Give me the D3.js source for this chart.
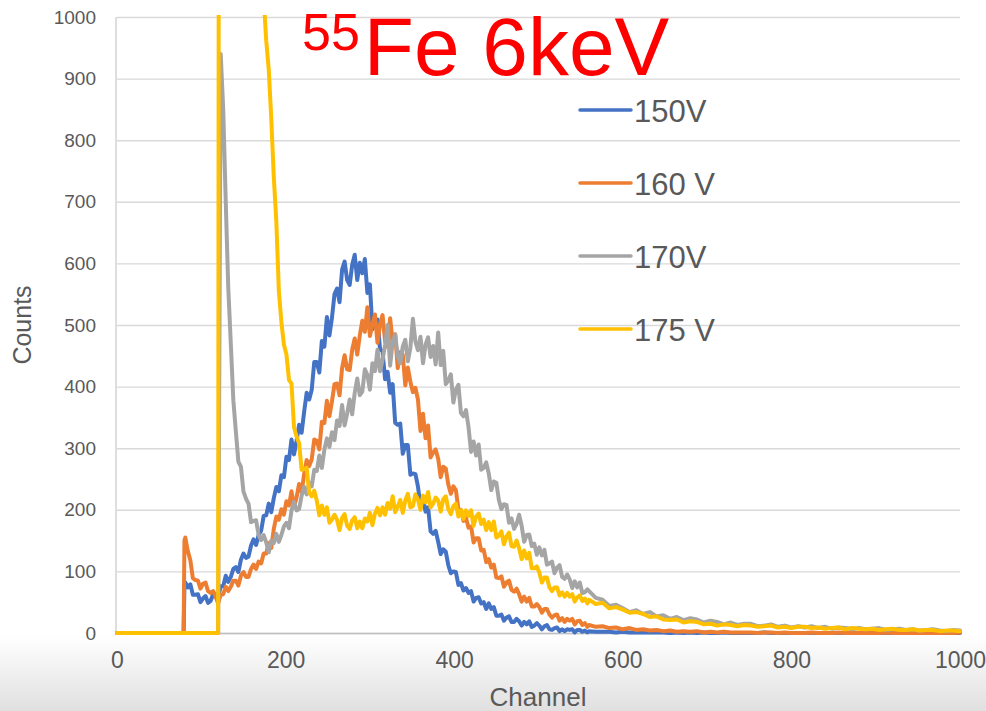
<!DOCTYPE html>
<html><head><meta charset="utf-8">
<script src="https://cdn.jsdelivr.net/npm/d3@7"></script>
<style>html,body{margin:0;padding:0;background:#fff;}svg{display:block;font-family:"Liberation Sans",Arial,sans-serif;}</style>
</head><body>
<svg id="chart" width="986" height="711"></svg>
<script>
// ---- data ----
const xTicks = [0, 200, 400, 600, 800, 1000];
const yTicks = [0, 100, 200, 300, 400, 500, 600, 700, 800, 900, 1000];
const seriesNames = ["150V", "160 V", "170V", "175 V"];
const seriesColors = ["#4472C4", "#ED7D31", "#A5A5A5", "#FFC000"];

// sampling grid: core channels 81,84,...,558 (rows of 10 = 30 channels); tail channels 560,568,...,1000 (rows of 8)
const coreStart = 81, coreStep = 3, tailStart = 560, tailStep = 8;

// leading points before the core grid, per series
const lead150 = [[0,0],[79,0],[80,75]];
const lead160 = [[0,0],[79,0],[80,150]];
const lead170 = [[0,0]];
const lead175 = [[0,0]];

const core150 = [
 82,74,79,62,62,63,50,56,60,49,
 52,63,63,59,76,76,93,83,91,104,
 107,99,119,129,122,124,142,152,143,159,
 166,190,191,210,196,219,237,230,256,253,
 286,281,314,290,312,338,325,359,390,379,
 395,440,440,423,474,465,513,483,512,550,
 559,537,590,603,573,565,598,614,573,601,
 584,607,552,566,493,509,509,461,457,412,
 424,390,404,341,338,340,291,305,305,257,
 259,258,238,206,220,197,204,165,161,166,
 148,128,136,132,110,97,100,99,78,81,
 69,73,65,68,51,57,58,48,50,39,
 48,39,42,28,28,30,20,25,27,18,
 18,23,19,12,18,14,19,10,12,16,
 12,6,11,13,6,5,8,9,3,6,
 3,6,5,6,1,5,5,2,4,1];
const tail150 = [
 3,2,2,2,1,2,1,1,
 1,1,1,1,0,1,0,1,
 0,1,0,0,1,0,0,0,
 0,0,1,0,0,0,0,0,
 0,0,0,0,0,0,0,0,
 0,0,0,0,0,0,0,0,
 0,0,0,0,0,0,0,0];

const core160 = [
 155,133,118,89,86,85,72,80,82,68,
 65,68,59,48,62,63,75,68,75,85,
 85,77,93,99,91,91,104,111,104,116,
 113,129,129,146,138,169,189,184,201,192,
 214,207,230,205,220,242,228,258,281,271,
 282,314,312,298,343,341,377,352,376,404,
 405,386,430,451,428,427,460,478,452,483,
 507,489,529,482,501,517,471,501,516,474,
 465,511,472,485,430,456,452,402,431,408,
 391,398,379,328,356,316,337,285,293,298,
 283,253,270,267,241,226,238,232,200,200,
 182,187,171,173,147,154,154,134,135,115,
 120,106,111,90,89,92,75,82,85,70,
 67,72,63,51,59,51,57,43,43,47,
 42,33,39,39,30,25,29,30,20,24,
 18,23,20,23,14,19,20,13,16,10];
const tail160 = [
 13,10,11,8,9,6,8,5,
 6,4,5,3,4,2,3,2,
 3,1,2,1,2,1,1,1,
 1,0,1,1,0,1,0,0,
 0,1,0,0,0,1,0,0,
 0,0,0,0,1,0,0,0,
 0,0,0,0,0,0,0,1];

const core170 = [
 0,0,0,0,0,0,0,0,0,0,
 0,0,0,0,940,850,700,560,470,378,
 327,278,270,230,218,210,180,182,183,159,
 151,159,147,131,150,146,161,148,159,173,
 179,170,199,213,199,201,223,237,225,244,
 238,265,263,288,268,298,316,302,326,313,
 345,336,370,337,356,379,355,390,413,386,
 392,428,419,395,438,425,460,425,443,468,
 500,434,473,484,449,438,465,476,441,463,
 510,473,459,481,438,468,480,448,466,436,
 488,435,458,404,410,420,374,395,403,357,
 352,362,334,294,311,288,306,265,268,277,
 259,232,246,244,216,201,209,208,179,186,
 169,177,192,174,148,159,160,141,145,127,
 139,126,135,111,113,116,97,106,110,91,
 88,95,87,73,84,74,82,65,66,71];
const tail170 = [
 68,57,54,44,46,40,34,37,
 31,34,27,29,23,26,21,24,
 22,17,20,18,14,17,13,15,
 15,11,12,14,10,12,9,11,
 9,11,8,10,7,9,8,6,
 8,6,7,8,5,6,7,5,
 6,4,5,6,4,3,5,4];

const core175 = [
 0,0,0,0,0,0,0,0,0,0,
 0,0,0,0,5000,4000,3400,2900,2500,2200,
 1950,1800,1650,1550,1450,1380,1300,1240,1180,1130,
 1080,1030,962,915,835,740,668,555,505,468,
 452,411,405,334,319,308,265,266,268,228,
 222,231,215,191,207,192,204,179,184,192,
 184,167,187,193,174,169,183,188,170,181,
 170,186,181,195,175,194,203,191,204,192,
 211,202,222,196,205,216,195,215,226,204,
 206,225,217,200,223,212,229,204,210,220,
 215,197,217,222,201,193,206,210,189,199,
 185,199,190,199,174,189,194,177,184,167,
 180,167,181,155,158,165,144,157,163,141,
 140,150,138,120,134,121,130,105,105,108,
 98,82,90,90,74,68,74,74,61,66,
 59,65,59,63,51,58,61,52,56,48];
const tail175 = [
 54,47,49,40,42,38,33,34,
 31,26,27,22,21,22,17,19,
 18,14,15,12,14,13,11,13,
 12,10,11,12,9,10,8,10,
 10,8,9,7,8,9,6,8,
 7,6,7,5,6,7,5,5,
 6,4,5,5,3,4,4,3];

const leads = [lead150, lead160, lead170, lead175];
const cores = [core150, core160, core170, core175];
const tails = [tail150, tail160, tail170, tail175];
const allSeries = cores.map((c, k) =>
  leads[k]
    .concat(c.map((v, i) => [coreStart + coreStep * i, v]))
    .concat(tails[k].map((v, j) => [tailStart + tailStep * j, v])));

// ---- layout ----
const svg = d3.select("#chart");
const mLeft = 117, mRight = 960, mTop = 17, mBottom = 633;
const x = d3.scaleLinear().domain([0, 1000]).range([mLeft, mRight]);
const y = d3.scaleLinear().domain([0, 1000]).range([mBottom, mTop]);

// background
const defs = svg.append("defs");
const grad = defs.append("linearGradient").attr("id","bg").attr("x1",0).attr("y1",0).attr("x2",0).attr("y2",1);
grad.append("stop").attr("offset","0%").attr("stop-color","#ffffff");
grad.append("stop").attr("offset","100%").attr("stop-color","#e0e0e0");
svg.append("rect").attr("x",0).attr("y",0).attr("width",986).attr("height",711).attr("fill","#fff");
svg.append("rect").attr("x",0).attr("y",636).attr("width",986).attr("height",75).attr("fill","url(#bg)");

defs.append("clipPath").attr("id","clip").append("rect")
  .attr("x", mLeft - 2).attr("y", mTop - 2).attr("width", mRight - mLeft + 4).attr("height", mBottom - mTop + 10);

// gridlines + y axis
const yAxis = d3.axisLeft(y).tickValues(yTicks).tickSize(-(mRight - mLeft)).tickPadding(21).tickFormat(d3.format("d"));
const gy = svg.append("g").attr("transform", `translate(${mLeft},0)`).call(yAxis);
gy.select(".domain").remove();
gy.selectAll(".tick line").attr("stroke", "#d9d9d9").attr("stroke-width", 1.4);
gy.selectAll(".tick text").attr("fill", "#595959").attr("font-size", "19px").attr("font-family","Liberation Sans, Arial, sans-serif");

// left axis line
svg.append("line").attr("x1", mLeft - 1).attr("x2", mLeft - 1).attr("y1", mTop).attr("y2", mBottom)
  .attr("stroke", "#d0d0d0").attr("stroke-width", 1.4);

// x axis
const xAxis = d3.axisBottom(x).tickValues(xTicks).tickSize(0).tickPadding(19).tickFormat(d3.format("d"));
const gx = svg.append("g").attr("transform", `translate(0,${mBottom})`).call(xAxis);
gx.select(".domain").attr("stroke", "#bfbfbf").attr("stroke-width", 1.4);
gx.selectAll(".tick text").attr("fill", "#595959").attr("font-size", "23px").attr("font-family","Liberation Sans, Arial, sans-serif");

// series
const line = d3.line().x(d => x(d[0])).y(d => y(d[1]));
const plot = svg.append("g").attr("clip-path", "url(#clip)");
allSeries.forEach((s, i) => {
  plot.append("path").datum(s).attr("d", line)
    .attr("fill", "none").attr("stroke", seriesColors[i]).attr("stroke-width", 4)
    .attr("stroke-linejoin", "round").attr("stroke-linecap", "round");
});

// axis titles
svg.append("text").attr("x", 538).attr("y", 706).attr("text-anchor", "middle")
  .attr("fill", "#595959").attr("font-size", "26px").text("Channel");
svg.append("text").attr("transform", "translate(31,325) rotate(-90)").attr("text-anchor", "middle")
  .attr("fill", "#595959").attr("font-size", "25px").text("Counts");

// title
const title = svg.append("text").attr("x", 302).attr("y", 75).attr("fill", "#FF0000");
title.append("tspan").attr("font-size", "52px").attr("dy", -25).text("55");
title.append("tspan").attr("font-size", "82px").attr("dy", 25).attr("dx", 4).text("Fe 6keV");

// legend
const legY = [110, 183, 256, 329];
seriesNames.forEach((n, i) => {
  svg.append("line").attr("x1", 580).attr("x2", 631).attr("y1", legY[i]).attr("y2", legY[i])
    .attr("stroke", seriesColors[i]).attr("stroke-width", 3.5).attr("stroke-linecap", "round");
  svg.append("text").attr("x", 634).attr("y", legY[i] + 12).attr("fill", "#595959")
    .attr("font-size", "31px").text(n);
});
</script>
</body></html>
